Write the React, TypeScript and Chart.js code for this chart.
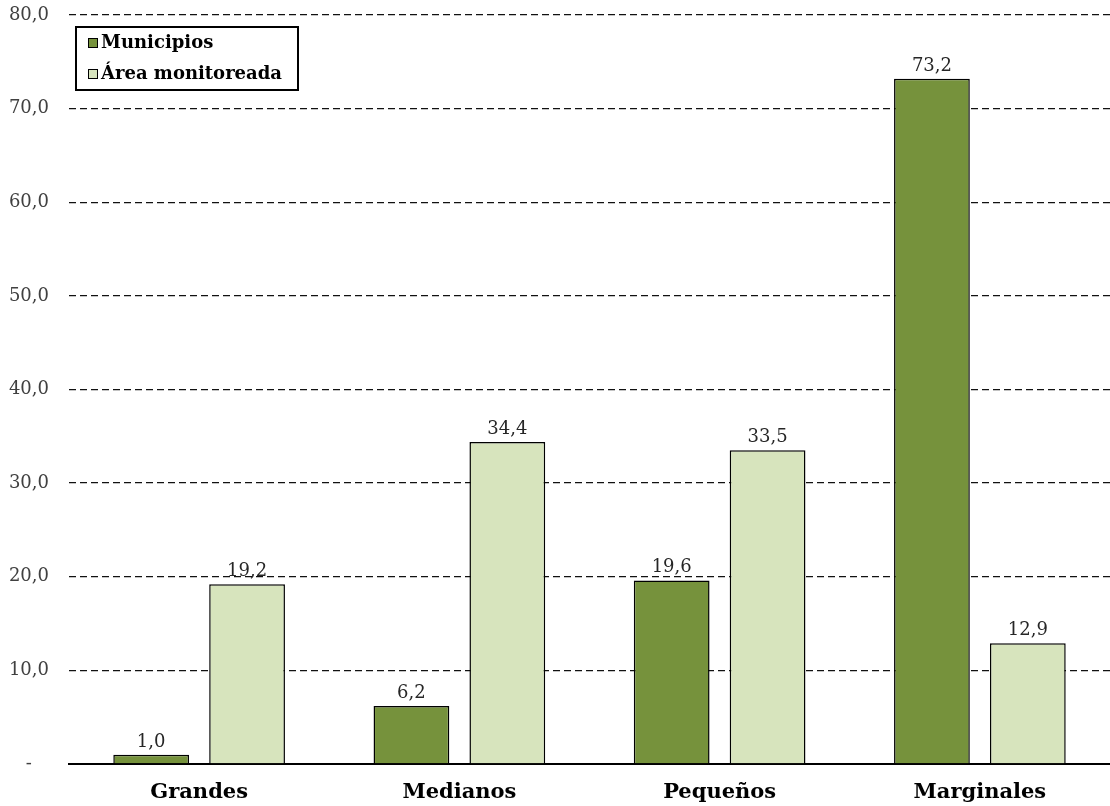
import React, { useEffect, useRef } from "react";
import { Chart, registerables } from "chart.js";
Chart.register(...registerables);

const categories = ["Grandes", "Medianos", "Pequeños", "Marginales"];
const municipios = [1.0, 6.2, 19.6, 73.2];
const areaMonitoreada = [19.2, 34.4, 33.5, 12.9];
const seriesNames = ["Municipios", "Área monitoreada"];
const yTicks = [0, 10, 20, 30, 40, 50, 60, 70, 80];

const FONT = "'DejaVu Serif', serif";
const DARK = "#76923C";
const LIGHT = "#D7E4BD";

const fmt = (v: number) => v.toFixed(1).replace(".", ",");

const labelsPlugin = {
  id: "valueLabels",
  afterDatasetsDraw(chart: any) {
    const ctx = chart.ctx;
    ctx.save();
    ctx.font = `18px ${FONT}`;
    ctx.fillStyle = "#262626";
    ctx.textAlign = "center";
    ctx.textBaseline = "alphabetic";
    chart.data.datasets.forEach((ds: any, i: number) => {
      const meta = chart.getDatasetMeta(i);
      meta.data.forEach((el: any, j: number) => {
        ctx.fillText(fmt(ds.data[j]), el.x, el.y - 8);
      });
    });
    ctx.restore();
  },
};

const legendPlugin = {
  id: "customLegend",
  afterDraw(chart: any) {
    const ctx = chart.ctx;
    ctx.save();
    const x = 76, y = 27, w = 222, h = 63;
    ctx.fillStyle = "#fff";
    ctx.fillRect(x, y, w, h);
    ctx.strokeStyle = "#000";
    ctx.lineWidth = 2;
    ctx.strokeRect(x, y, w, h);
    const colors = [DARK, LIGHT];
    ctx.font = `bold 18px ${FONT}`;
    ctx.textBaseline = "middle";
    ctx.textAlign = "left";
    seriesNames.forEach((name, i) => {
      const cy = y + 16 + i * 31;
      ctx.fillStyle = colors[i];
      ctx.fillRect(x + 12, cy - 5, 10, 10);
      ctx.strokeStyle = "#000";
      ctx.lineWidth = 1;
      ctx.strokeRect(x + 12.5, cy - 4.5, 9, 9);
      ctx.fillStyle = "#000";
      ctx.fillText(name, x + 25, cy);
    });
    ctx.restore();
  },
};

export default function App() {
  const ref = useRef<HTMLCanvasElement | null>(null);
  useEffect(() => {
    if (!ref.current) return;
    const chart = new Chart(ref.current, {
      type: "bar",
      data: {
        labels: categories,
        datasets: [
          {
            label: seriesNames[0],
            data: municipios,
            backgroundColor: DARK,
            borderColor: "#000",
            borderWidth: 1.5,
          },
          {
            label: seriesNames[1],
            data: areaMonitoreada,
            backgroundColor: LIGHT,
            borderColor: "#000",
            borderWidth: 1.5,
          },
        ],
      },
      options: {
        animation: false,
        responsive: false,
        maintainAspectRatio: false,
        layout: { padding: { top: 15, right: 0, left: 0, bottom: 0 } },
        datasets: {
          bar: { categoryPercentage: 0.737, barPercentage: 0.79 },
        },
        plugins: {
          legend: { display: false },
          tooltip: { enabled: false },
        },
        scales: {
          x: {
            grid: { display: false },
            border: { display: true, color: "#000", width: 2 },
            ticks: {
              color: "#000",
              font: { family: FONT, size: 21, weight: "bold" },
              padding: 8,
            },
            afterFit(scale: any) {
              scale.height = 42;
              scale.paddingLeft = 0;
              scale.paddingRight = 0;
            },
          },
          y: {
            min: 0,
            max: 80,
            afterBuildTicks(scale: any) {
              scale.ticks = yTicks.map((v) => ({ value: v }));
            },
            border: { display: false, dash: [7, 4] },
            grid: {
              color: (c: any) => (c.tick && c.tick.value === 0 ? "rgba(0,0,0,0)" : "#111"),
              lineWidth: 1.3,
              drawTicks: false,
            },
            ticks: {
              color: "#404040",
              font: { family: FONT, size: 18 },
              padding: 20,
              callback: (v: any) => (Number(v) === 0 ? "-   " : fmt(Number(v))),
            },
            afterFit(scale: any) {
              scale.width = 69;
              scale.paddingTop = 0;
              scale.paddingBottom = 0;
            },
          },
        },
      } as any,
      plugins: [labelsPlugin, legendPlugin],
    });
    return () => chart.destroy();
  }, []);
  return (
    <div style={{ position: "absolute", left: 0, top: 0, width: 1110, height: 806 }}>
      <canvas ref={ref} width={1110} height={806} />
    </div>
  );
}
